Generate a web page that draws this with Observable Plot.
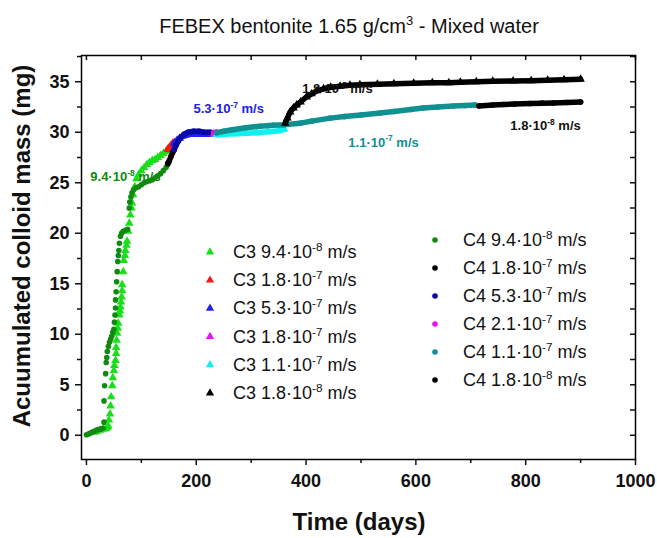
<!DOCTYPE html>
<html><head><meta charset="utf-8">
<script src="https://cdn.jsdelivr.net/npm/d3@7"></script>
<script src="https://cdn.jsdelivr.net/npm/@observablehq/plot@0.6"></script>
<style>body{margin:0;background:#fff;} svg{display:block;}</style>
</head><body><div id="chart"></div>
<script>
// ---- data: [day, accumulated colloid mass (mg)] ----
const c3_94e8 = [[15,0.3],[20,0.4],[25,0.5],[30,0.6],[35,0.65],[38,0.75],[40,0.9],[41,1.5],[43,2.1],[44,2.9],[45,3.8],[47,4.9],[48,5.7],[50,6.4],[51,6.9],[53,7.4],[54,8.1],[54,8.7],[55,9.4],[56,10.1],[57,10.6],[58,11.1],[60,11.9],[61,12.3],[62,12.7],[63,13.2],[64,13.7],[65,14.3],[65,14.9],[67,16.2],[68,17.3],[70,17.8],[71,18.3],[73,18.8],[74,19.2],[76,20.2],[78,21.0],[80,21.8],[82,22.5],[83,23.0],[85,23.8],[88,24.6],[91,25.4],[95,25.8],[100,26.2],[105,26.5],[110,26.8],[115,27.0],[120,27.2],[125,27.3],[130,27.5],[135,27.7],[140,27.9],[145,28.1],[148,28.3]];
const c3_18e7a = [[148,28.3],[151,28.5],[154,28.7],[157,28.9],[160,29.0]];
const c3_53e7 = [[160,28.9],[165,29.2],[170,29.4],[175,29.6],[180,29.7],[190,29.8],[200,29.8],[210,29.8],[220,29.8],[232,29.8]];
const c3_18e7b = [[232,29.8],[236,29.85]];
const c3_11e7 = [[237,29.75],[250,29.8],[270,29.85],[290,29.9],[310,29.95],[330,30.05],[350,30.15],[360,30.3]];
const c3_18e8 = [[362,30.9],[366,31.4],[371,32.0],[377,32.4],[383,32.7],[390,33.0],[401,33.5],[410,33.8],[420,34.1],[432,34.3],[445,34.45],[462,34.55],[480,34.65],[498,34.7],[530,34.75],[560,34.8],[596,34.85],[630,34.9],[660,34.9],[681,34.95],[710,35.0],[740,35.05],[777,35.07],[810,35.1],[840,35.15],[870,35.2],[900,35.25]];

const c4_94e8 = [[0,0.05],[3,0.1],[6,0.2],[9,0.25],[12,0.35],[15,0.4],[18,0.5],[21,0.55],[24,0.6],[27,0.65],[30,0.7],[32,1.3],[32,3.4],[33,4.9],[35,6.1],[36,7.2],[37,7.7],[38,8.3],[40,8.8],[42,9.2],[44,9.5],[46,9.8],[48,10.2],[50,10.5],[51,11.2],[52,11.9],[53,12.6],[53,13.4],[54,14.2],[55,15.2],[56,16.2],[57,17.2],[58,17.8],[59,18.3],[60,19.0],[62,19.7],[64,20.0],[67,20.2],[71,20.3],[75,20.4],[78,22.5],[79,23.1],[81,23.6],[83,24.0],[86,24.3],[90,24.5],[95,24.6],[100,24.8],[105,25.0],[110,25.1],[115,25.2],[120,25.3],[125,25.5],[130,25.7],[135,25.9],[140,26.2],[145,26.5],[148,26.8],[150,27.0]];
const c4_18e7 = [[148,26.9],[151,27.2],[154,27.6],[157,28.0],[160,28.3]];
const c4_53e7 = [[160,28.3],[163,28.7],[167,29.1],[172,29.5],[178,29.8],[185,30.0],[195,30.1],[205,30.1],[215,30.0],[225,30.0],[232,29.9]];
const c4_21e7 = [[232,29.95],[237,30.0]];
const c4_11e7 = [[237,29.95],[250,30.1],[266,30.25],[290,30.45],[316,30.6],[340,30.7],[360,30.75],[389,30.9],[410,31.1],[444,31.4],[470,31.55],[500,31.7],[535,31.9],[560,32.05],[590,32.25],[613,32.4],[640,32.5],[668,32.6],[690,32.65],[708,32.7]];
const c4_18e8 = [[715,32.6],[740,32.7],[760,32.75],[780,32.8],[808,32.85],[830,32.88],[850,32.9],[875,32.95],[900,33.0]];

// ---- series meta ----
const c3Names = ["C3 9.4·10^-8 m/s","C3 1.8·10^-7 m/s","C3 5.3·10^-7 m/s","C3 1.8·10^-7 m/s","C3 1.1·10^-7 m/s","C3 1.8·10^-8 m/s"];
const c4Names = ["C4 9.4·10^-8 m/s","C4 1.8·10^-7 m/s","C4 5.3·10^-7 m/s","C4 2.1·10^-7 m/s","C4 1.1·10^-7 m/s","C4 1.8·10^-8 m/s"];
const c3Colors = ["#18e018","#f01818","#2020f0","#f010f0","#10f0f0","#000000"];
const c4Colors = ["#108a10","#000000","#0808a8","#f010f0","#109090","#000000"];
const c3Data = [c3_94e8,c3_18e7a,c3_53e7,c3_18e7b,c3_11e7,c3_18e8];
const c4Data = [c4_94e8,c4_18e7,c4_53e7,c4_21e7,c4_11e7,c4_18e8];

// ---- annotations ----
const annText = ["9.4·10^-8 m/s","5.3·10^-7 m/s","1.8·10^-8 m/s","1.1·10^-7 m/s","1.8·10^-8 m/s"];
const annDay = [7,195,393,477,772];
const annMass = [25.6,32.3,34.3,29.0,30.6];
const annColor = ["#108a10","#2020f0","#111111","#109090","#111111"];

// ---- ticks ----
const xMajor = [0,200,400,600,800,1000];
const xMinor = [100,300,500,700,900];
const yMajor = [0,5,10,15,20,25,30,35];
const yMinor = [2.5,7.5,12.5,17.5,22.5,27.5,32.5,37.5];

const rows = (data, name, group, color, order) => data.map(([day, mass]) => ({day, mass, name, group, color, order}));
const drawOrder = [
  ["C3",0],["C4",0],["C3",1],["C4",1],["C3",2],["C4",2],["C3",3],["C4",3],["C3",4],["C4",4],["C3",5],["C4",5]
];
const marks = [];
for (const [g, i] of drawOrder) {
  const data = g === "C3" ? c3Data[i] : c4Data[i];
  const color = g === "C3" ? c3Colors[i] : c4Colors[i];
  const name = g === "C3" ? c3Names[i] : c4Names[i];
  const r = rows(data, name, g, color, i);
  if (i !== 0) marks.push(Plot.line(r, {x: "day", y: "mass", stroke: color, strokeWidth: 5.5, strokeLinecap: "round"}));
  marks.push(Plot.dot(r, {x: "day", y: "mass", fill: color, stroke: "none", symbol: g === "C3" ? "triangle" : "circle", r: g === "C3" ? 3.2 : 2.8}));
}
const ann = annText.map((t, i) => ({t, day: annDay[i], mass: annMass[i], color: annColor[i]}));

const W = 657, H = 538, mL = 81, mR = 22, mT = 55, mB = 79;
const fw = W - mL - mR, fh = H - mT - mB;
const FONT = "Liberation Sans, Arial, Helvetica, sans-serif";

const plot = Plot.plot({
  width: W, height: H, marginLeft: mL, marginRight: mR, marginTop: mT, marginBottom: mB,
  x: {domain: [-9, 1000], label: null},
  y: {domain: [-2.4, 37.6], label: null},
  style: {fontFamily: FONT, background: "white", color: "#111"},
  marks: [
    ...marks,
    Plot.text(ann, {x: "day", y: "mass", text: "t", fill: "color", textAnchor: "start", fontSize: 13, fontWeight: "bold"}),
    Plot.axisX({ticks: xMajor, tickSize: 6, tickPadding: 9, fontSize: 18, fontWeight: "bold", label: null, strokeWidth: 1.5, tickFormat: d => String(d)}),
    Plot.axisX({ticks: xMinor, tickSize: 4, tickFormat: () => "", label: null, strokeWidth: 1.5}),
    Plot.axisY({ticks: yMajor, tickSize: 6, tickPadding: 6, fontSize: 18, fontWeight: "bold", label: null, strokeWidth: 1.5, tickFormat: d => String(d)}),
    Plot.axisY({ticks: yMinor, tickSize: 4, tickFormat: () => "", label: null, strokeWidth: 1.5}),
    Plot.tickX(xMajor.concat(xMinor), {x: d => d, insetBottom: fh - 5, strokeWidth: 1.5}),
    Plot.tickY(yMajor.concat(yMinor), {y: d => d, insetLeft: fw - 5, strokeWidth: 1.5}),
    Plot.frame({stroke: "black", strokeWidth: 1.5})
  ]
});
document.getElementById("chart").appendChild(plot);

// superscript helper
function writeSup(sel, str) {
  const m = str.match(/^(.*?)\^(\S+)(.*)$/);
  sel.text(null);
  if (!m) { sel.append("tspan").text(str); return; }
  sel.append("tspan").text(m[1]);
  sel.append("tspan").attr("dy", "-0.6em").style("font-size", "0.65em").text(m[2]);
  sel.append("tspan").attr("dy", "0.39em").text(m[3]);
}
const svg = d3.select(plot);
svg.selectAll("text").each(function() {
  const t = this.textContent;
  if (t.includes("^")) writeSup(d3.select(this), t);
});

// title
const title = svg.append("text").attr("x", 349).attr("y", 33).attr("text-anchor", "middle")
  .style("font-family", FONT).style("font-size", "20px").attr("fill", "#111");
title.append("tspan").text("FEBEX bentonite 1.65 g/cm");
title.append("tspan").attr("dy", "-0.6em").style("font-size", "0.65em").text("3");
title.append("tspan").attr("dy", "0.39em").text(" - Mixed water");

// axis titles
svg.append("text").attr("x", 359).attr("y", 530).attr("text-anchor", "middle")
  .style("font-family", FONT).style("font-size", "24px").style("font-weight", "bold").attr("fill", "#111").text("Time (days)");
svg.append("text").attr("transform", `translate(30,246) rotate(-90)`).attr("text-anchor", "middle")
  .style("font-family", FONT).style("font-size", "24px").style("font-weight", "bold").attr("fill", "#111").text("Acuumulated colloid mass (mg)");

// legends
function legend(names, colors, symbol, sx, tx, y0, dy) {
  names.forEach((n, i) => {
    const y = y0 + i * dy;
    if (symbol === "triangle") {
      svg.append("path").attr("d", d3.symbol(d3.symbolTriangle, 30)()).attr("transform", `translate(${sx},${y})`).attr("fill", colors[i]);
    } else {
      svg.append("circle").attr("cx", sx).attr("cy", y).attr("r", 2.8).attr("fill", colors[i]);
    }
    const t = svg.append("text").attr("x", tx).attr("y", y + 6).attr("text-anchor", "start")
      .style("font-family", FONT).style("font-size", "18px").attr("fill", "#111");
    writeSup(t, n);
  });
}
legend(c3Names, c3Colors, "triangle", 210, 233, 252, 28.2);
legend(c4Names, c4Colors, "circle", 435, 463, 240, 28);
</script></body></html>
